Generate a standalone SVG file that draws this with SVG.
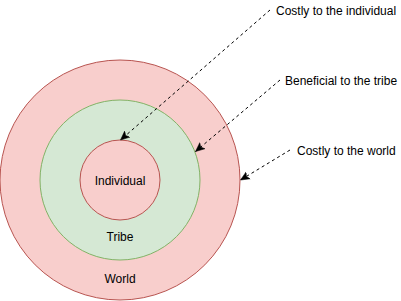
<svg xmlns="http://www.w3.org/2000/svg" width="401" height="301" viewBox="0 0 401 301">
<style>
.red{fill:#f8cecc;stroke:#b85450;stroke-width:1}
.green{fill:#d5e8d4;stroke:#82b366;stroke-width:1}
text{font-family:"Liberation Sans",Arial,sans-serif;font-size:12px;fill:#000}
.c{text-anchor:middle}
.edge{fill:none;stroke:#000;stroke-width:1;stroke-dasharray:3 3}
</style>
<defs>
<marker id="arr" markerUnits="userSpaceOnUse" markerWidth="10" markerHeight="10" viewBox="0 0 10 8" refX="9" refY="4" orient="auto">
<path d="M0,0 L9,4 L0,8 L2.2,4 z" fill="#000" stroke="#000" stroke-width="0.5"/>
</marker>
</defs>
<rect width="401" height="301" fill="#fff"/>
<g id="world">
<circle class="red" cx="120" cy="180" r="120"/>
<text class="c" x="120" y="283">World</text>
</g>
<g id="tribe">
<circle class="green" cx="120" cy="180" r="80"/>
<text class="c" x="120" y="241">Tribe</text>
</g>
<g id="individual">
<circle class="red" cx="120" cy="180" r="40"/>
<text class="c" x="120" y="185">Individual</text>
</g>
<g id="label-individual"><text x="276" y="15">Costly to the individual</text></g>
<g id="label-tribe"><text x="285" y="85">Beneficial to the tribe</text></g>
<g id="label-world"><text x="297" y="155">Costly to the world</text></g>
<g id="connectors">
<path class="edge" d="M270,10 L120.5,140" marker-end="url(#arr)"/>
<path class="edge" d="M280,80 L195.5,151.5" marker-end="url(#arr)"/>
<path class="edge" d="M290,150 L240.5,180" marker-end="url(#arr)"/>
</g>
</svg>
